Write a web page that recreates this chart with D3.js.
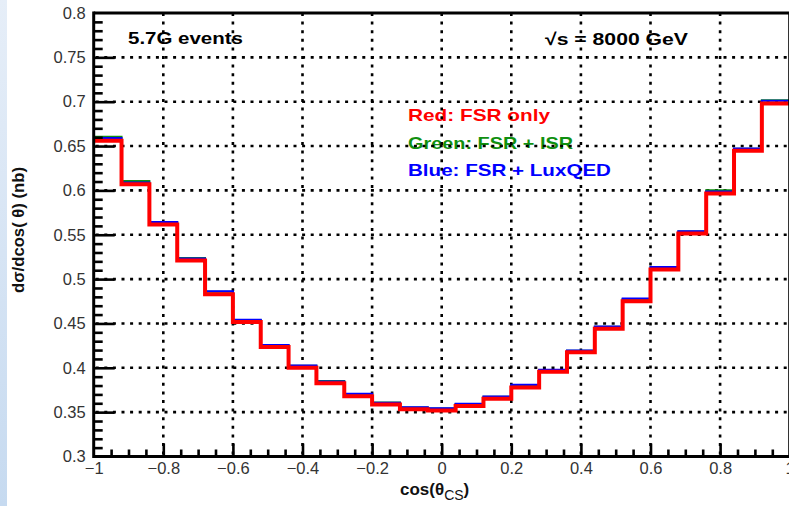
<!DOCTYPE html>
<html>
<head>
<meta charset="utf-8">
<script src="https://cdn.jsdelivr.net/npm/d3@7"></script>
<style>
  body { margin: 0; background: #fff; }
  svg { display: block; font-family: "Liberation Sans", Arial, sans-serif; }
</style>
</head>
<body>
<svg id="chart" width="789" height="506"></svg>
<script>
// 25 bins of width 0.08 between -1 and 1
var binEdges = d3.range(25).map(function(i) { return -1 + i * 0.08; });

var redFsr = [0.656, 0.607, 0.5615, 0.521, 0.483, 0.4516, 0.4234, 0.4001, 0.3827, 0.368, 0.3587, 0.3534, 0.3519,
  0.3568, 0.3651, 0.3779, 0.3956, 0.4174, 0.4441, 0.475, 0.5107, 0.5513, 0.5965, 0.6446, 0.698];
var greenIsr = [0.6605, 0.6105, 0.5642, 0.5238, 0.4858, 0.454, 0.4253, 0.4024, 0.385, 0.3705, 0.361, 0.3553, 0.3542,
  0.3592, 0.3674, 0.3806, 0.3976, 0.4193, 0.4464, 0.4777, 0.5134, 0.5537, 0.6002, 0.647, 0.7017];
var blueLux = [0.659, 0.609, 0.5644, 0.5231, 0.4862, 0.4543, 0.4256, 0.4027, 0.3845, 0.3708, 0.3605, 0.3556, 0.3545,
  0.3595, 0.3677, 0.3809, 0.3979, 0.4196, 0.4467, 0.478, 0.5137, 0.554, 0.5988, 0.6473, 0.701];

var xMajor = [-1, -0.8, -0.6, -0.4, -0.2, 0, 0.2, 0.4, 0.6, 0.8, 1];
var yMajor = [0.3, 0.35, 0.4, 0.45, 0.5, 0.55, 0.6, 0.65, 0.7, 0.75, 0.8];

var svg = d3.select('#chart');
var x = d3.scaleLinear().domain([-1, 1]).range([93.7, 789.7]);
var y = d3.scaleLinear().domain([0.3, 0.8]).range([456.5, 13]);

// light blue strip on the left edge
var grad = svg.append('defs').append('linearGradient').attr('id', 'strip')
  .attr('x1', 0).attr('y1', 0).attr('x2', 0).attr('y2', 1);
grad.append('stop').attr('offset', 0).attr('stop-color', '#e6eef8');
grad.append('stop').attr('offset', 1).attr('stop-color', '#c6daf0');
svg.append('rect').attr('x', 0).attr('y', 0).attr('width', 7).attr('height', 506).attr('fill', 'url(#strip)');

// text inside the frame (grid is drawn over it, like the original)
function label(txt, px, py, len, color) {
  svg.append('text').attr('x', px).attr('y', py)
    .attr('font-size', 17).attr('font-weight', 'bold').attr('fill', color)
    .attr('textLength', len).attr('lengthAdjust', 'spacingAndGlyphs')
    .text(txt);
}
label('5.7G events', 128, 43.5, 115, '#000');
label('\u221As = 8000 GeV', 545, 44.5, 143, '#000');
label('Red: FSR only', 408, 120.5, 142, '#ff0000');
label('Green: FSR + ISR', 408, 148.5, 165, '#109010');
label('Blue: FSR + LuxQED', 408, 176, 203, '#0000ff');

// dotted grid
var grid = svg.append('g').attr('stroke', '#000').attr('stroke-width', 2.6).attr('stroke-dasharray', '3,5.6');
grid.selectAll('.gx').data(xMajor.slice(1, -1)).enter().append('line')
  .attr('x1', function(d) { return x(d); }).attr('x2', function(d) { return x(d); })
  .attr('y1', y(0.8)).attr('y2', y(0.3));
grid.selectAll('.gy').data(yMajor.slice(1, -1)).enter().append('line')
  .attr('x1', x(-1) + 2).attr('x2', x(1))
  .attr('y1', function(d) { return y(d); }).attr('y2', function(d) { return y(d); });

// histograms as step lines
var step = d3.line()
  .x(function(d) { return x(d[0]); })
  .y(function(d) { return y(d[1]); })
  .curve(d3.curveStepAfter);

function histPoints(vals) {
  var pts = vals.map(function(v, i) { return [binEdges[i], v]; });
  pts.push([1, vals[vals.length - 1]]);
  return pts;
}

[[greenIsr, '#109010', 2], [blueLux, '#0000ff', 2], [redFsr, '#ff0000', 4]].forEach(function(s) {
  svg.append('path').datum(histPoints(s[0]))
    .attr('d', step).attr('fill', 'none')
    .attr('stroke', s[1]).attr('stroke-width', s[2]);
});

// axis ticks (inside the frame)
var yMinor = d3.range(31, 80).map(function(i) { return i / 100; }).filter(function(v) { return Math.round(v * 100) % 5 !== 0; });
var xMinor = d3.range(-19, 20).map(function(i) { return i / 20; }).filter(function(v) { return Math.round(v * 20) % 4 !== 0; });

function tickGroup(axis) {
  var g = svg.append('g').call(axis);
  g.select('.domain').remove();
  g.selectAll('line').attr('stroke', '#000').attr('stroke-width', 2.6);
  return g;
}
tickGroup(d3.axisRight(y).tickValues(yMajor.slice(1, -1)).tickSize(21).tickFormat('')).attr('transform', 'translate(' + x(-1) + ',0)');
tickGroup(d3.axisRight(y).tickValues(yMinor).tickSize(9).tickFormat('')).attr('transform', 'translate(' + x(-1) + ',0)');
tickGroup(d3.axisTop(x).tickValues(xMajor.slice(1, -1)).tickSize(13).tickFormat('')).attr('transform', 'translate(0,' + y(0.3) + ')');
tickGroup(d3.axisTop(x).tickValues(xMinor).tickSize(7).tickFormat('')).attr('transform', 'translate(0,' + y(0.3) + ')');

// frame
var frame = svg.append('g').attr('stroke', '#000').attr('stroke-width', 3).attr('fill', 'none');
frame.append('line').attr('x1', x(-1)).attr('x2', x(1)).attr('y1', y(0.3)).attr('y2', y(0.3));
frame.append('line').attr('x1', x(-1)).attr('x2', x(1)).attr('y1', y(0.8)).attr('y2', y(0.8));
frame.append('line').attr('x1', x(-1)).attr('x2', x(-1)).attr('y1', y(0.8) - 1.5).attr('y2', y(0.3) + 1.5);
frame.append('line').attr('x1', x(1)).attr('x2', x(1)).attr('y1', y(0.8)).attr('y2', y(0.3));

// tick labels
var yLab = svg.append('g').attr('transform', 'translate(' + (x(-1) - 8) + ',0)')
  .call(d3.axisLeft(y).tickValues(yMajor).tickSize(0).tickPadding(0)
    .tickFormat(function(d) { return String(+d.toFixed(2)); }));
yLab.select('.domain').remove();
yLab.selectAll('text').attr('font-size', 16.5).attr('fill', '#333').attr('font-family', '"Liberation Sans", Arial, sans-serif');

var xLab = svg.append('g').attr('transform', 'translate(0,' + (y(0.3) + 6) + ')')
  .call(d3.axisBottom(x).tickValues(xMajor).tickSize(0).tickPadding(0)
    .tickFormat(function(d) { return d === 0 ? '0' : (d < 0 ? '\u2212' : '') + Math.abs(+d.toFixed(1)); }));
xLab.select('.domain').remove();
xLab.selectAll('text').attr('font-size', 16.5).attr('fill', '#333').attr('font-family', '"Liberation Sans", Arial, sans-serif');

// axis titles
var xt = svg.append('text').attr('x', 400).attr('y', 495).attr('font-size', 17).attr('font-weight', 'bold').attr('fill', '#111');
xt.append('tspan').text('cos(\u03B8');
xt.append('tspan').attr('font-size', 14).attr('font-weight', 'normal').attr('dy', 5).text('CS');
xt.append('tspan').attr('dy', -5).text(')');

svg.append('text').attr('transform', 'translate(24,230) rotate(-90)')
  .attr('text-anchor', 'middle').attr('font-size', 16).attr('font-weight', 'bold').attr('fill', '#111')
  .attr('textLength', 126).attr('lengthAdjust', 'spacingAndGlyphs')
  .text('d\u03C3/dcos( \u03B8) (nb)');
</script>
</body>
</html>
